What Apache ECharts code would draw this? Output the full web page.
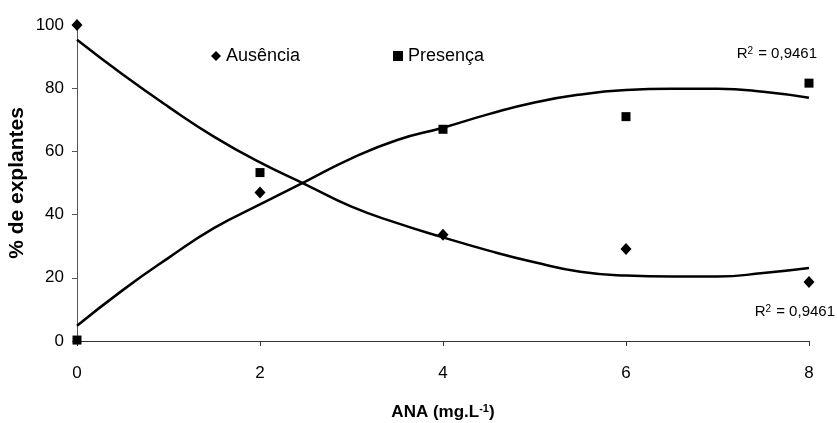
<!DOCTYPE html>
<html lang="pt">

<head>
    <meta charset="UTF-8">
    <title>Explantes x ANA</title>
    <script src="https://cdn.jsdelivr.net/npm/echarts@6/dist/echarts.min.js"></script>
    <style>
        body {
            margin: 0;
            background-color: #fff;
        }
        #main {
            width: 837px;
            height: 423px;
        }
    </style>
</head>

<body>
    <div id="main"></div>
    <script type="text/javascript">
        // pontos observados
        var doses = [0, 2, 4, 6, 8];
        var ausencia = [100, 47, 33.6, 29.1, 18.7];
        var presenca = [0.3, 53.3, 67, 71, 81.6];

        // linhas de tendencia
        var xLinha = [0, 0.5, 1, 1.5, 2, 2.5, 3, 3.5, 4, 4.5, 5, 5.5, 6, 6.5, 7, 7.5, 8];
        var ausenciaLinha = [95.3, 84.3, 74.1, 64.6, 56.5, 49.5, 42.5, 37.3, 32.8, 28.6, 24.9, 21.9, 20.7, 20.4, 20.4, 21.5, 23.1];
        var presencaLinha = [4.8, 16.1, 26.3, 35.8, 43.2, 50.5, 57.8, 63.6, 67.5, 71.8, 75.5, 78.0, 79.4, 79.8, 79.8, 78.9, 77.0];

        var xTicks = [0, 2, 4, 6, 8];
        var yTicks = [0, 20, 40, 60, 80, 100];
        var r2 = '0,9461';

        function pares(xs, ys) {
            return xs.map(function (x, i) { return [x, ys[i]]; });
        }

        var fonte = '"Liberation Sans", Arial, sans-serif';
        var myChart = echarts.init(document.getElementById('main'));

        var richR2 = {
            a: { fontSize: 15, fontFamily: fonte, fill: '#000' },
            s: { fontSize: 10, fontFamily: fonte, fill: '#000', verticalAlign: 'top', padding: [0, 1, 6, 0] }
        };

        var option = {
            animation: false,
            textStyle: { fontFamily: fonte, color: '#000' },
            grid: { left: 77, right: 28, top: 25, bottom: 82, containLabel: false, outerBoundsMode: 'none' },
            legend: [{
                data: ['Ausência'],
                left: 206,
                top: 42,
                itemWidth: 10,
                itemHeight: 10,
                itemGap: 0,
                textStyle: { fontSize: 18, fontFamily: fonte, color: '#000' }
            }, {
                data: ['Presença'],
                left: 388,
                top: 42,
                itemWidth: 10,
                itemHeight: 10,
                itemGap: 0,
                textStyle: { fontSize: 18, fontFamily: fonte, color: '#000' }
            }],
            xAxis: {
                type: 'value',
                min: xTicks[0],
                max: xTicks[xTicks.length - 1],
                interval: 2,
                name: 'ANA (mg.L{sup|-1})',
                nameLocation: 'middle',
                nameGap: 62,
                nameMoveOverlap: false,
                nameTextStyle: {
                    fontSize: 17,
                    fontWeight: 'bold',
                    fontFamily: fonte,
                    color: '#000',
                    rich: {
                        sup: { fontSize: 11, fontWeight: 'bold', fontFamily: fonte, verticalAlign: 'top', padding: [0, 0, 8, 0] }
                    }
                },
                axisLine: { lineStyle: { color: '#333', width: 1 } },
                axisTick: { length: 5, lineStyle: { color: '#333' } },
                axisLabel: { margin: 24, fontSize: 17, color: '#000', fontFamily: fonte },
                splitLine: { show: false }
            },
            yAxis: {
                type: 'value',
                min: yTicks[0],
                max: yTicks[yTicks.length - 1],
                interval: 20,
                name: '% de explantes',
                nameLocation: 'middle',
                nameGap: 49,
                nameMoveOverlap: false,
                nameTextStyle: { fontSize: 21, fontWeight: 'bold', fontFamily: fonte, color: '#000' },
                axisLine: { show: true, lineStyle: { color: '#555', width: 1 } },
                axisTick: { show: true, length: 5, lineStyle: { color: '#555' } },
                axisLabel: { margin: 13, fontSize: 17, color: '#000', fontFamily: fonte },
                splitLine: { show: false }
            },
            graphic: [{
                type: 'text',
                right: 20,
                top: 46,
                style: { text: '{a|R}{s|2}{a| = ' + r2 + '}', rich: richR2 }
            }, {
                type: 'text',
                right: 2,
                top: 304,
                style: { text: '{a|R}{s|2}{a| = ' + r2 + '}', rich: richR2 }
            }],
            series: [{
                name: 'Ausência linha',
                type: 'line',
                data: pares(xLinha, ausenciaLinha),
                smooth: true,
                showSymbol: false,
                lineStyle: { color: '#000', width: 2.5 },
                z: 2
            }, {
                name: 'Presença linha',
                type: 'line',
                data: pares(xLinha, presencaLinha),
                smooth: true,
                showSymbol: false,
                lineStyle: { color: '#000', width: 2.5 },
                z: 2
            }, {
                name: 'Ausência',
                type: 'scatter',
                symbol: 'diamond',
                symbolSize: [11, 12],
                itemStyle: { color: '#000', opacity: 1 },
                data: pares(doses, ausencia),
                z: 3
            }, {
                name: 'Presença',
                type: 'scatter',
                symbol: 'rect',
                symbolSize: 9,
                itemStyle: { color: '#000', opacity: 1 },
                data: pares(doses, presenca),
                z: 3
            }]
        };

        myChart.setOption(option);
    </script>
</body>

</html>
